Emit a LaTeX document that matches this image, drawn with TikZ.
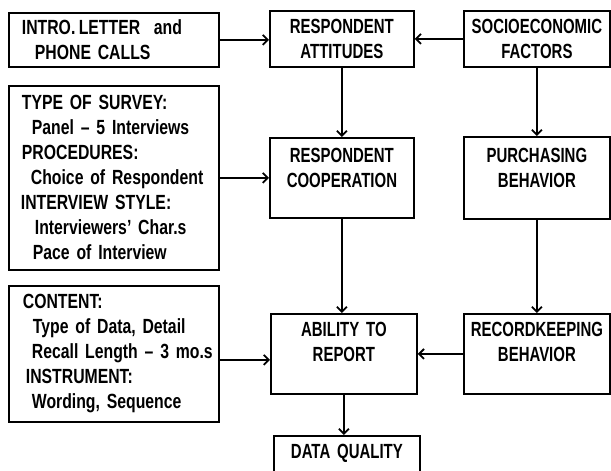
\documentclass[tikz,border=0pt]{standalone}
\usepackage{fontspec}
\setmainfont{Liberation Sans}[FakeStretch=0.73]
\newfontfamily\leftfnt{Liberation Sans}[Ligatures=TeX, FakeStretch=0.77]
\usepackage{tikz}
\usetikzlibrary{arrows.meta, calc}
\newcommand{\itm}[2][11pt]{\mbox{\hspace*{#1}#2}}
\newcommand{\lowpad}[1]{\rule[-#1]{0pt}{0pt}}

\begin{document}
\begin{tikzpicture}[x=1pt, y=-1pt, style={line cap = round},
  box/.style={draw, line width=1.8pt, anchor=north west, inner sep=0pt,
    font=\bfseries\fontsize{20.5}{25}\selectfont},
  leftbox/.style={box, align=left, text width=186pt, inner xsep=12pt,
    font=\leftfnt\bfseries\fontsize{20.5}{25}\selectfont},
  ctrbox/.style={box, align=center, text width=140pt},
  flow/.style={line width=1.8pt, -{Straight Barb[length=5pt, width=10pt, line width=1.8pt]}}]
  \useasboundingbox (0,0) rectangle (611,471);
  \clip (0,0) rectangle (611,471);

  % left column
  \node[leftbox, minimum height=54pt] (intro) at (8,12) {\itm[1pt]{INTRO.\,LETTER\ \ and}\\\itm[14pt]{PHONE CALLS}};
  \node[leftbox, minimum height=184pt] (survey) at (8,85) {\itm[1pt]{TYPE OF SURVEY:}\\\itm{Panel -- 5 Interviews}\\\itm[1pt]{PROCEDURES:}\\\itm[10pt]{Choice of Respondent}\\\itm[0pt]{INTERVIEW STYLE:}\\\itm[14pt]{Interviewers' Char.s}\\\itm[12pt]{Pace of Interview}};
  \node[leftbox, minimum height=136pt] (content) at (8,285) {\itm[2pt]{CONTENT:}\\\itm[12pt]{Type of Data, Detail}\\\itm{Recall Length -- 3 mo.s}\\\itm[5pt]{INSTRUMENT:}\\\itm{Wording, Sequence}};

  % middle column
  \node[ctrbox, minimum width=144pt, minimum height=56pt] (attitudes) at (269,10) {RESPONDENT\\ATTITUDES};
  \node[ctrbox, minimum width=144pt, minimum height=80pt] (coop) at (269,137) {RESPONDENT\\COOPERATION\lowpad{20pt}};
  \node[ctrbox, minimum width=146pt, minimum height=80pt] (ability) at (270,313) {ABILITY TO\\REPORT\lowpad{24pt}};
  \node[ctrbox, minimum width=146pt, minimum height=60pt] (quality) at (273,435) {DATA QUALITY\lowpad{30pt}};

  % right column
  \node[ctrbox, minimum width=146pt, minimum height=56pt] (socio) at (463,10) {SOCIOECONOMIC\\FACTORS};
  \node[ctrbox, minimum width=146pt, minimum height=82pt] (purch) at (463,136) {PURCHASING\\BEHAVIOR\lowpad{20pt}};
  \node[ctrbox, minimum width=146pt, minimum height=80pt] (record) at (463,313) {RECORDKEEPING\\BEHAVIOR\lowpad{24pt}};

  \draw[flow] (intro.east) -- (intro.east -| attitudes.west);
  \draw[flow] (socio.west) -- (socio.west -| attitudes.east);
  \draw[flow] (attitudes.south) -- (attitudes.south |- coop.north);
  \draw[flow] (socio.south) -- (socio.south |- purch.north);
  \draw[flow] (survey.east) -- (survey.east -| coop.west);
  \draw[flow] (coop.south) -- (coop.south |- ability.north);
  \draw[flow] (purch.south) -- (purch.south |- record.north);
  \draw[flow] ($(content.east)+(0,6)$) -- ($(content.east -| ability.west)+(0,6)$);
  \draw[flow] (record.west) -- (record.west -| ability.east);
  \draw[flow] (ability.south) -- (ability.south |- quality.north);
\end{tikzpicture}
\end{document}
